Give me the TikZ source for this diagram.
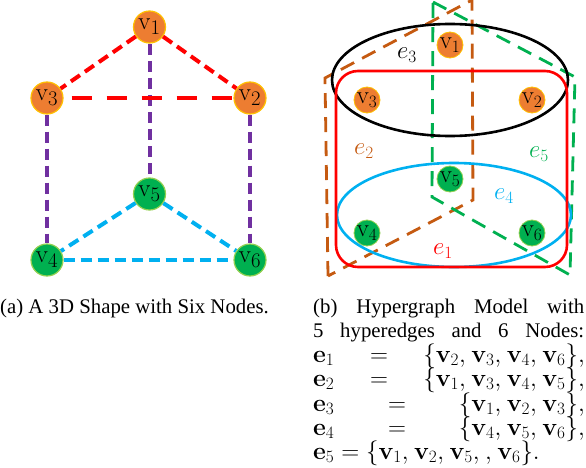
\documentclass[tikz,border=0pt]{standalone}
\usepackage{amsmath,amssymb}
\usepackage[no-math]{fontspec}
\setmainfont{Liberation Serif}
\usepackage{xcolor}
\usetikzlibrary{positioning}
\definecolor{OrangeNode}{RGB}{237,125,49}
\definecolor{OrangeRim}{RGB}{255,192,0}
\definecolor{GreenNode}{RGB}{0,176,80}
\definecolor{GreenRim}{RGB}{146,208,80}
\definecolor{RedEdge}{RGB}{255,0,0}
\definecolor{PurpleEdge}{RGB}{112,48,160}
\definecolor{BlueEdge}{RGB}{0,176,240}
\definecolor{BrownEdge}{RGB}{197,90,17}
\definecolor{GreenEdge}{RGB}{0,176,80}
\newcommand{\capspacing}{\thinmuskip=4mu\relax}
\begin{document}
\begin{tikzpicture}[
  x=1pt, y=-1pt,
  bignode/.style={circle, minimum size=32pt, inner sep=0pt, line width=1.2pt, font=\fontsize{30}{30}\selectfont},
  smallnode/.style={circle, minimum size=26pt, inner sep=0pt, line width=0.8pt, font=\fontsize{23}{23}\selectfont},
  topnode/.style={fill=OrangeNode, draw=OrangeRim},
  lownode/.style={fill=GreenNode, draw=GreenRim},
  shapeedge/.style={line width=4pt, dash pattern=on 11pt off 6pt},
  longedge/.style={line width=4pt, dash pattern=on 20pt off 15pt, dash phase=-8pt},
  hyperdash/.style={line width=2.8pt, dash pattern=on 15pt off 9pt},
  hyperloop/.style={line width=2.6pt},
  elabel/.style={font=\fontsize{24}{24}\selectfont},
  caption/.style={anchor=base west, font=\fontsize{20.8}{20.8}\selectfont, inner sep=0pt},
  mathcap/.style={caption, font=\fontsize{23}{23}\selectfont\capspacing},
]
\useasboundingbox (0,0) rectangle (586,468);

% left shape
\draw[shapeedge, PurpleEdge] (149.5,27) -- (149.5,194);
\node[bignode, topnode] (v1) at (149.5,27) {$\mathrm{v}_1$};
\node[bignode, topnode] (v3) at (47,98) {$\mathrm{v}_3$};
\node[bignode, topnode] (v2) at (250,98) {$\mathrm{v}_2$};
\node[bignode, lownode] (v5) at (149.5,194) {$\mathrm{v}_5$};
\node[bignode, lownode] (v4) at (47,260) {$\mathrm{v}_4$};
\node[bignode, lownode] (v6) at (250,260) {$\mathrm{v}_6$};

\draw[shapeedge, RedEdge] (v1) -- (v3);
\draw[shapeedge, RedEdge] (v1) -- (v2);
\draw[longedge, RedEdge] (v3) -- (v2);
\draw[shapeedge, PurpleEdge] (v3) -- (v4);
\draw[shapeedge, PurpleEdge] (v2) -- (v6);
\draw[shapeedge, BlueEdge] (v5) -- (v4);
\draw[shapeedge, BlueEdge] (v5) -- (v6);
\draw[shapeedge, BlueEdge] (v4) -- (v6);

% hypergraph
\node[smallnode, topnode] (h1) at (450,45) {$\mathrm{v}_1$};
\node[smallnode, topnode] (h3) at (367,100) {$\mathrm{v}_3$};
\node[smallnode, topnode] (h2) at (532,100) {$\mathrm{v}_2$};
\node[smallnode, lownode] (h5) at (450,179) {$\mathrm{v}_5$};
\node[smallnode, lownode] (h4) at (367,233) {$\mathrm{v}_4$};
\node[smallnode, lownode] (h6) at (532,233) {$\mathrm{v}_6$};

\draw[hyperdash, BrownEdge] (328,276) -- (325,78) -- (472,0) -- (473,200) -- cycle;
\draw[hyperdash, GreenEdge] (433,2) -- (575,77) -- (570,275) -- (432,197) -- cycle;
\draw[hyperloop, black] (450,80) ellipse (118 and 56);
\draw[hyperloop, BlueEdge] (454,215) ellipse (117 and 52);
\draw[hyperloop, RedEdge, rounded corners=22pt] (336,71) rectangle (567,267);

\node[elabel, black] (e3) at (407,55) {$e_3$};
\node[elabel, BrownEdge] (e2) at (364,151) {$e_2$};
\node[elabel, GreenEdge] (e5) at (539,154) {$e_5$};
\node[elabel, BlueEdge] (e4) at (504,196) {$e_4$};
\node[elabel, RedEdge] (e1) at (443,251) {$e_1$};

% captions
\node[caption] (capa) at (0,313) {(a) A 3D Shape with Six Nodes.};
\node[caption] (capb1) at (313,313) {\makebox[271pt][s]{(b) Hypergraph Model with}};
\node[caption] (capb2) at (313,337) {\makebox[271pt][s]{5 hyperedges and 6 Nodes:}};
\node[mathcap] (l1) at (313,362) {$\mathbf{e}_1$};
\node[mathcap] (l2) at (313,386) {$\mathbf{e}_2$};
\node[mathcap] (l3) at (313,411) {$\mathbf{e}_3$};
\node[mathcap] (l4) at (313,435) {$\mathbf{e}_4$};
\node[mathcap] (l5) at (313,459) {$\mathbf{e}_5=\{\mathbf{v}_1,\mathbf{v}_2,\mathbf{v}_5,,\mathbf{v}_6\}.$};
\node[mathcap] (q1) at (370,362) {$=$};
\node[mathcap] (q2) at (370,386) {$=$};
\node[mathcap] (q3) at (388,411) {$=$};
\node[mathcap] (q4) at (388,435) {$=$};
\node[mathcap, anchor=base east] (s1) at (585,362) {$\{\mathbf{v}_2,\mathbf{v}_3,\mathbf{v}_4,\mathbf{v}_6\},$};
\node[mathcap, anchor=base east] (s2) at (585,386) {$\{\mathbf{v}_1,\mathbf{v}_3,\mathbf{v}_4,\mathbf{v}_5\},$};
\node[mathcap, anchor=base east] (s3) at (585,411) {$\{\mathbf{v}_1,\mathbf{v}_2,\mathbf{v}_3\},$};
\node[mathcap, anchor=base east] (s4) at (585,435) {$\{\mathbf{v}_4,\mathbf{v}_5,\mathbf{v}_6\},$};
\end{tikzpicture}
\end{document}
